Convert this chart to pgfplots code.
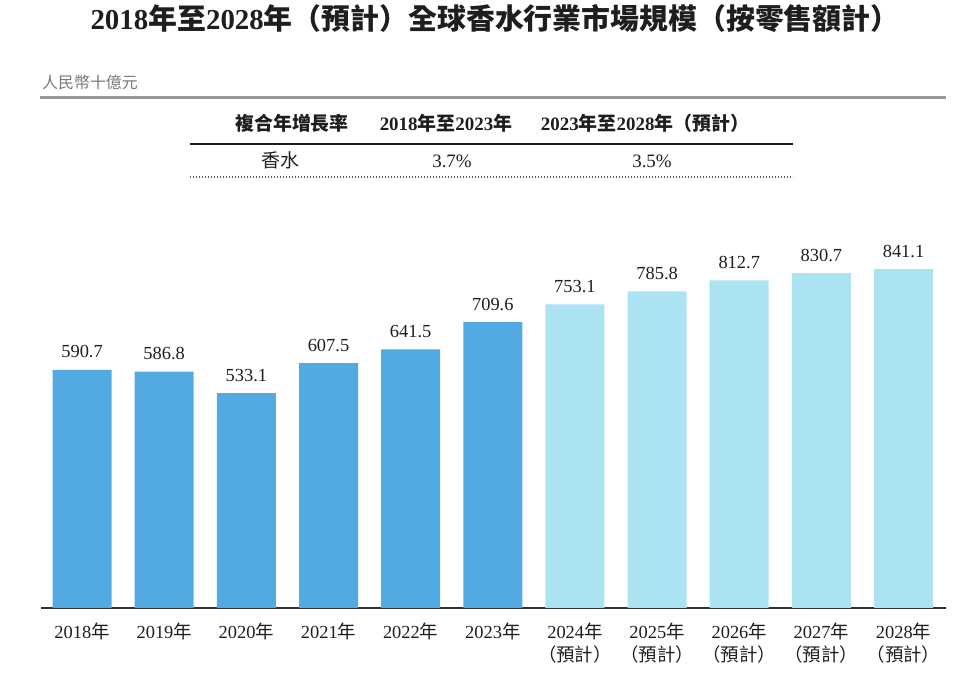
\documentclass[border=0pt]{standalone}
\usepackage{fontspec}
\setmainfont{Liberation Serif}
\newfontfamily\cjk{Noto Sans CJK TC}
\usepackage{pgfplots}
\pgfplotsset{compat=1.18}
\definecolor{darkbar}{RGB}{83,170,226}
\definecolor{lightbar}{RGB}{172,227,243}
\definecolor{subgray}{RGB}{120,120,120}
\definecolor{linegray}{RGB}{150,150,150}
\definecolor{dotgray}{RGB}{90,90,90}
\definecolor{axisgray}{RGB}{50,50,50}
\definecolor{textcol}{RGB}{30,30,30}
\newcommand{\nian}{{\cjk 年}}
\newcommand{\yj}{{\cjk （預計）}}

\begin{document}
\begin{tikzpicture}
\path[use as bounding box] (0,0) rectangle (978bp,673bp);
% title
\node[anchor=base, inner sep=0, text=textcol, font=\fontsize{29}{32}\selectfont\bfseries] at (495bp,643bp)
  {2018{\cjk\bfseries 年至}2028{\cjk\bfseries 年（預計）全球香水行業市場規模（按零售額計）}};
% unit
\node[anchor=base west, text=subgray, inner sep=0, font=\fontsize{16}{18}\selectfont\cjk] at (42bp,584.5bp) {人民幣十億元};
\draw[line width=3bp, color=linegray] (40bp,575.3bp) -- (946bp,575.3bp);
% table
\begin{scope}[every node/.style={anchor=base, inner sep=0, text=textcol, font=\fontsize{19}{22}\selectfont}]
\node at (292bp,542bp) {\cjk\bfseries 複合年增長率};
\node at (446bp,542bp) {\bfseries 2018{\cjk\bfseries 年至}2023{\cjk\bfseries 年}};
\node at (645bp,542bp) {\bfseries 2023{\cjk\bfseries 年至}2028{\cjk\bfseries 年（預計）}};
\node at (280bp,505bp) {\cjk 香水};
\node at (452bp,505bp) {3.7\%};
\node at (652bp,505bp) {3.5\%};
\end{scope}
\draw[line width=1.5bp, color=textcol] (190bp,529bp) -- (793bp,529bp);
\draw[line width=1.1bp, color=dotgray, dash pattern=on 1.1bp off 1.9bp] (190bp,496bp) -- (793bp,496bp);
\begin{axis}[
  at={(41bp,65bp)}, anchor=south west,
  scale only axis, width=905bp, height=403bp,
  xmin=-0.5, xmax=10.517, ymin=0, ymax=1000,
  hide y axis,
  axis x line*=bottom,
  x axis line style={-, draw=axisgray, line width=1.8bp},
  xtick={0,...,10},
  xticklabels={2018\nian,2019\nian,2020\nian,2021\nian,2022\nian,2023\nian,
    {2024\nian\\\yj},{2025\nian\\\yj},{2026\nian\\\yj},{2027\nian\\\yj},{2028\nian\\\yj}},
  xtick style={draw=none},
  xticklabel style={align=center, anchor=north, inner sep=0pt, yshift=-10.5bp,
    font=\fontsize{18.5}{23.5}\selectfont, text=textcol},
  ybar, bar width=59bp, bar shift=0pt,
  nodes near coords={\pgfmathprintnumber[fixed,fixed zerofill,precision=1,assume math mode=true]{\pgfplotspointmeta}},
  every node near coord/.append style={anchor=base, yshift=12bp, inner sep=0pt,
    font=\fontsize{18.5}{22}\selectfont, text=textcol},
]
\addplot[fill=darkbar, draw=none] coordinates {(0,590.7) (1,586.8) (2,533.1) (3,607.5) (4,641.5) (5,709.6)};
\addplot[fill=lightbar, draw=none] coordinates {(6,753.1) (7,785.8) (8,812.7) (9,830.7) (10,841.1)};
\end{axis}
\end{tikzpicture}
\end{document}
